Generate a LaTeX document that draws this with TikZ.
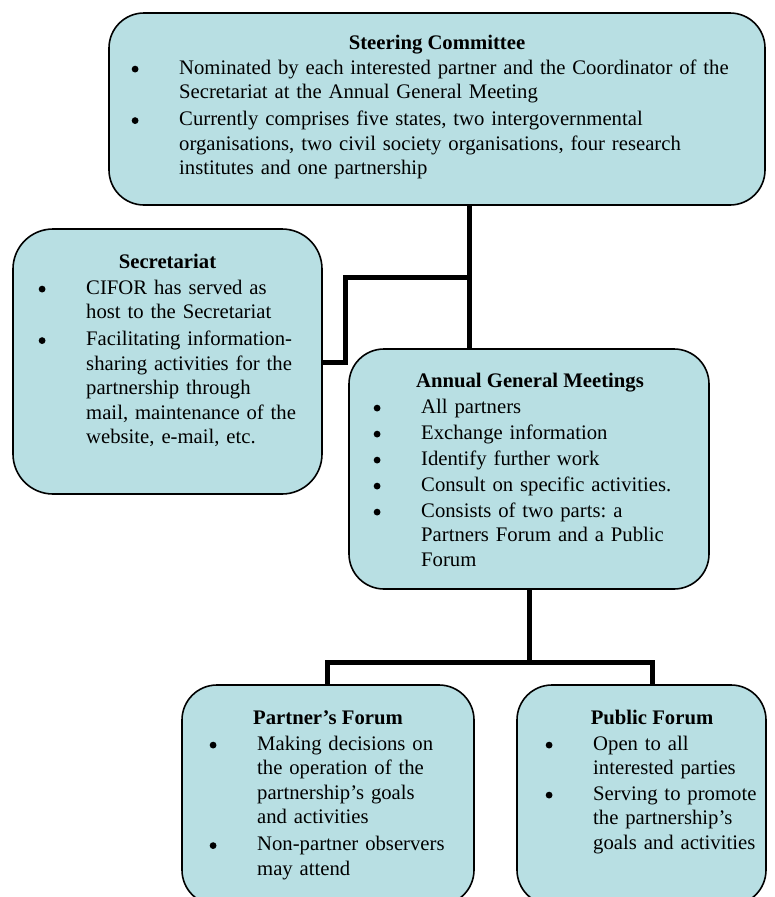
\documentclass[tikz,border=0pt]{standalone}
\usepackage{fontspec}
\setmainfont{Liberation Serif}
\definecolor{boxfill}{RGB}{184,223,227}
\newcommand{\bitem}{\makebox[47.5pt][l]{\raisebox{1.5pt}{\tikz\fill[black] (0,0) circle (3.4pt);}}}
\newcommand{\ind}{\hspace*{47.5pt}}
\frenchspacing
\begin{document}
\begin{tikzpicture}[x=1pt,y=-1pt,
  box/.style={draw=black, line width=1.6pt, fill=boxfill, rounded corners=35pt, inner sep=0pt, shape=rectangle},
  conn/.style={line width=5pt, black, line join=miter},
  ttl/.style={font=\fontsize{20.7}{24.5}\selectfont\bfseries, anchor=base, inner sep=0pt},
  body/.style={font=\fontsize{20.7}{24.5}\selectfont\frenchspacing, anchor=base west, inner sep=0pt, align=left}]
\useasboundingbox (0,0) rectangle (774,897);
\clip (0,0) rectangle (774,897);

% boxes
\node[box, minimum width=656pt, minimum height=192pt] (sc) at (437,109) {};
\node[box, rounded corners=40pt, minimum width=309pt, minimum height=265pt] (sec) at (167.5,361.5) {};
\node[box, minimum width=360pt, minimum height=240pt] (agm) at (529,469) {};
\node[box, minimum width=292pt, minimum height=220pt] (pf) at (328,795) {};
\node[box, minimum width=249pt, minimum height=220pt] (pub) at (641.5,795) {};

% junctions
\coordinate (j1) at (469,277);
\coordinate (j2) at (345,277);
\coordinate (j3) at (345,362);
\coordinate (j4) at (529,662);
\coordinate (j5) at (327,662);
\coordinate (j6) at (652,662);

% connectors
\draw[conn] (sc.south -| j1) -- (agm.north -| j1);
\draw[conn] (sec.east |- j3) -- (j3) -- (j2) -- (j1);
\draw[conn] (agm.south -| j4) -- (j4);
\draw[conn] (pf.north -| j5) -- (j5) -- (j6) -- (pub.north -| j6);

% Steering Committee
\node[ttl] (sct) at (437,49) {Steering Committee};
\node[body, text width=640pt] (scb) at (131.5,74) {%
\bitem Nominated by each interested partner and the Coordinator of the\\
\ind Secretariat at the Annual General Meeting\\[2.5pt]
\bitem Currently comprises five states, two intergovernmental\\
\ind organisations, two civil society organisations, four research\\
\ind institutes and one partnership};

% Secretariat
\node[ttl] (sect) at (167.5,268) {Secretariat};
\node[body, text width=300pt] (secb) at (38.5,294) {%
\bitem CIFOR has served as\\
\ind host to the Secretariat\\[2.5pt]
\bitem Facilitating information-\\
\ind sharing activities for the\\
\ind partnership through\\
\ind mail, maintenance of the\\
\ind website, e-mail, etc.};

% Annual General Meetings
\node[ttl] (agmt) at (530,387) {Annual General Meetings};
\node[body, text width=340pt] (agmb) at (373.5,413) {%
\bitem All partners\\[1.5pt]
\bitem Exchange information\\[1.5pt]
\bitem Identify further work\\[1.5pt]
\bitem Consult on specific activities.\\[1.5pt]
\bitem Consists of two parts: a\\
\ind Partners Forum and a Public\\
\ind Forum};

% Partner's Forum
\node[ttl] (pft) at (328,724) {Partner’s Forum};
\node[body, text width=280pt] (pfb) at (209.5,750) {%
\bitem Making decisions on\\
\ind the operation of the\\
\ind partnership’s goals\\
\ind and activities\\[2.5pt]
\bitem Non-partner observers\\
\ind may attend};

% Public Forum
\node[ttl] (pubt) at (652,724) {Public Forum};
\node[body, text width=240pt] (pubb) at (545.5,750) {%
\bitem Open to all\\
\ind interested parties\\[1pt]
\bitem Serving to promote\\
\ind the partnership’s\\
\ind goals and activities};
\end{tikzpicture}
\end{document}
